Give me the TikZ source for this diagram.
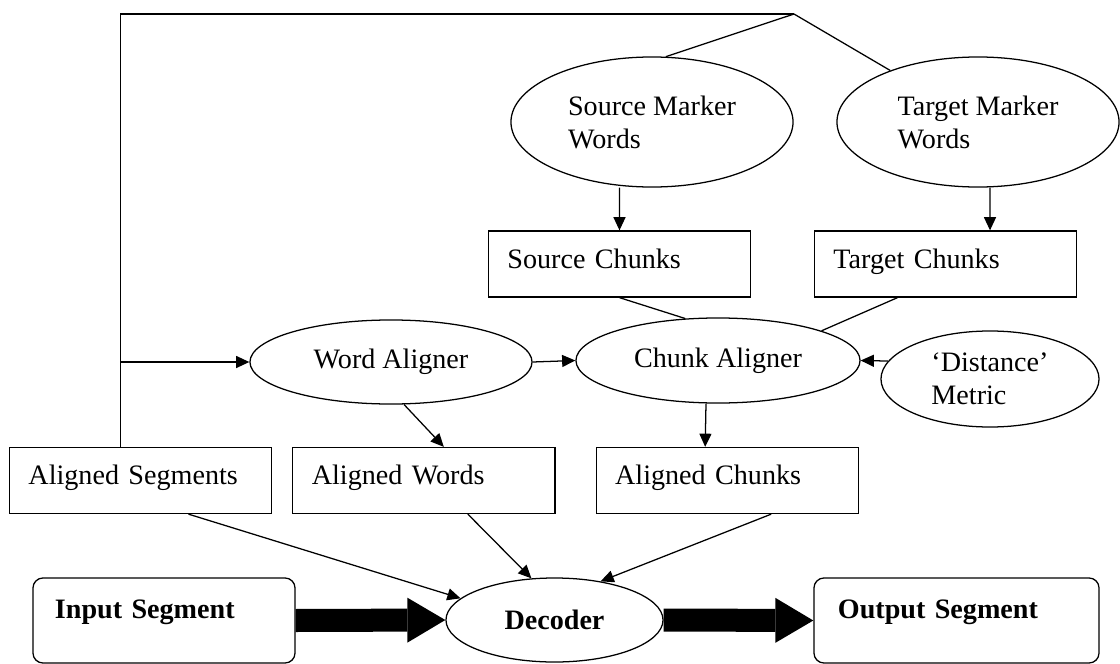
\documentclass[tikz,border=0pt]{standalone}
\usepackage{fontspec}
\setmainfont{Liberation Serif}
\usetikzlibrary{shapes.geometric,arrows.meta,positioning}

\begin{document}
\begin{tikzpicture}[
    x=0.025cm, y=-0.025cm, line width=0.9pt,
    every node/.style={font=\fontsize{20}{23.5}\selectfont},
    marker/.style={ellipse, draw, inner sep=0pt, align=left},
    chunkbox/.style={rectangle, draw, text width=5.6cm, inner xsep=0.475cm, inner ysep=0.125cm, text height=0.8cm, text depth=0.6cm, align=left},
    segbox/.style={rectangle, draw, rounded corners=0.25cm, text width=5.45cm, inner xsep=0.55cm, inner ysep=0.25cm, text height=0.75cm, text depth=0.875cm, align=left, font=\fontsize{20}{23.5}\selectfont\bfseries},
    arrow/.style={-{Triangle[length=0.33cm, width=0.3cm]}},
    bigarrow/.style={-{Triangle[length=0.95cm, width=1.125cm, line width=0pt]}, line width=0.575cm}
]
    \useasboundingbox (0,0) rectangle (1120,664);

    \node[marker, minimum width=7.05cm, minimum height=3.25cm] (smw) at (652,122) {Source Marker\\Words};
    \node[marker, minimum width=7.05cm, minimum height=3.25cm] (tmw) at (978,122) {Target Marker\\Words};

    \node[chunkbox] (sch) at (619.5,264) {Source Chunks};
    \node[chunkbox] (tch) at (945.5,264) {Target Chunks};

    \node[marker, minimum width=7.05cm, minimum height=2.1cm] (wal) at (391,362) {Word Aligner};
    \node[marker, minimum width=7.1cm, minimum height=2.125cm] (chal) at (718,360.5) {Chunk Aligner};
    \node[marker, minimum width=5.45cm, minimum height=2.4cm] (dm) at (990,379) {‘Distance’\\Metric};

    \node[chunkbox] (segs) at (140.5,480.5) {Aligned Segments};
    \node[chunkbox, right=0.5cm of segs] (awd) {Aligned Words};
    \node[chunkbox, right=1.0cm of awd] (ach) {Aligned Chunks};

    \node[marker, minimum width=5.425cm, minimum height=2.1cm, font=\fontsize{20}{23.5}\selectfont\bfseries] (dec) at (554.5,620) {Decoder};
    \node[segbox] (inp) at (164,620.5) {Input Segment};
    \node[segbox, text width=5.925cm, inner xsep=0.6cm] (outp) at (956.5,620.5) {Output Segment};

    % feedback line over the top
    \coordinate (peak) at (794,14);
    \coordinate (branch) at (120,362);
    \draw ([xshift=-0.5cm]segs.north) |- (peak);
    \draw (peak) -- (smw.78);
    \draw (peak) -- (tmw);
    \draw[arrow] (branch) -- (wal.west);

    \draw[arrow] ([xshift=-0.8125cm]smw.south) -- (sch.north);
    \draw[arrow] ([xshift=0.3cm]tmw.south) -- ([xshift=1.1125cm]tch.north);
    \draw (sch.south) -- (chal.128);
    \draw ([xshift=-1.2cm]tch.south) -- (chal.16);
    \draw[arrow] (wal.east) -- (chal.west);
    \draw[arrow] (dm.170) -- (chal.east);
    \draw[arrow] (wal.-73) -- ([xshift=0.5cm]awd.north);
    \draw[arrow] ([xshift=-0.3cm]chal.south) -- ([xshift=-0.55cm]ach.north);

    \draw[arrow] ([xshift=1.2cm]segs.south) -- (dec.167);
    \draw[arrow] ([xshift=1.1cm]awd.south) -- (dec.119);
    \draw[arrow] ([xshift=1.1cm]ach.south) -- (dec.40);

    \draw[bigarrow] (inp.east) -- (dec.west);
    \draw[bigarrow] (dec.east) -- (outp.west);
\end{tikzpicture}
\end{document}
